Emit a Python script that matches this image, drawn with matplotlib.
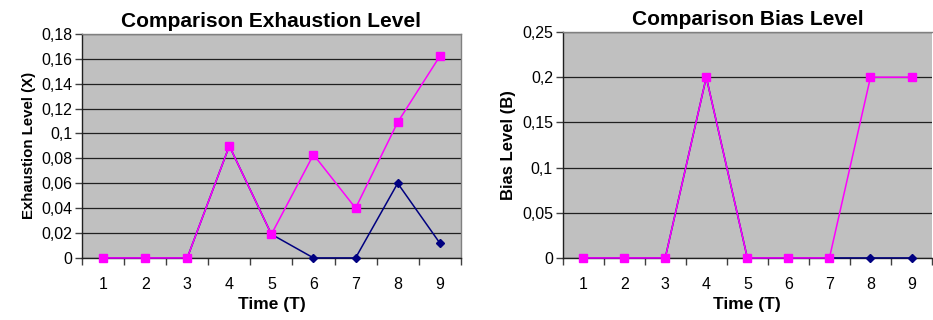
import matplotlib
matplotlib.use("Agg")
import matplotlib.pyplot as plt
from matplotlib.ticker import FuncFormatter, FixedLocator

plt.rcParams['font.family'] = ['Liberation Sans', 'DejaVu Sans']

time = [1, 2, 3, 4, 5, 6, 7, 8, 9]
exh_blue = [0, 0, 0, 0.09, 0.019, 0, 0, 0.06, 0.012]
exh_pink = [0, 0, 0, 0.09, 0.019, 0.083, 0.04, 0.109, 0.162]
bias_blue = [0, 0, 0, 0.2, 0, 0, 0, 0, 0]
bias_pink = [0, 0, 0, 0.2, 0, 0, 0, 0.2, 0.2]

exh_ticks = [0, 0.02, 0.04, 0.06, 0.08, 0.1, 0.12, 0.14, 0.16, 0.18]
bias_ticks = [0, 0.05, 0.1, 0.15, 0.2, 0.25]

fig = plt.figure(figsize=(9.33, 3.2), dpi=100)
ax1 = fig.add_axes([0.0879, 0.194, 0.406, 0.700])
ax2 = fig.add_axes([0.603, 0.194, 0.396, 0.706])

def comma(v, pos):
    s = ('%g' % v)
    return s.replace('.', ',')

def style(ax, ticks, title, ylabel, ylsize):
    ax.set_facecolor('#C0C0C0')
    ax.set_xlim(0.5, 9.5)
    ax.set_ylim(ticks[0], ticks[-1])
    ax.set_yticks(ticks)
    ax.yaxis.set_major_formatter(FuncFormatter(comma))
    ax.set_xticks(time)
    ax.set_xticklabels([str(t) for t in time])
    ax.xaxis.set_minor_locator(FixedLocator([t + 0.5 for t in range(0, 10)]))
    ax.tick_params(axis='x', which='major', length=0, labelsize=11.5, pad=14)
    ax.tick_params(axis='x', which='minor', length=5, width=1, color='#404040')
    ax.tick_params(axis='y', length=5, width=1, labelsize=11.5, pad=2, color='#404040')
    ax.grid(axis='y', color='#202020', linewidth=0.9)
    ax.set_axisbelow(True)
    for s in ['top', 'right']:
        ax.spines[s].set_color('#808080')
        ax.spines[s].set_linewidth(1)
    for s in ['left', 'bottom']:
        ax.spines[s].set_color('#202020')
        ax.spines[s].set_linewidth(1)
    ax.set_title(title, fontsize=15, fontweight='bold', pad=5)
    ax.set_xlabel('Time (T)', fontsize=12.5, fontweight='bold', labelpad=3)
    ax.set_ylabel(ylabel, fontsize=ylsize, fontweight='bold', labelpad=4)

ax1.plot(time, exh_blue, color='#000080', marker='D', markersize=4.5, linewidth=1.1, clip_on=False, zorder=3)
ax1.plot(time, exh_pink, color='#FF00FF', marker='s', markersize=6, linewidth=1.1, clip_on=False, zorder=4)
style(ax1, exh_ticks, 'Comparison Exhaustion Level', 'Exhaustion Level (X)', 10.8)

ax2.plot(time, bias_blue, color='#000080', marker='D', markersize=4.5, linewidth=1.1, clip_on=False, zorder=3)
ax2.plot(time, bias_pink, color='#FF00FF', marker='s', markersize=6, linewidth=1.1, clip_on=False, zorder=4)
style(ax2, bias_ticks, 'Comparison Bias Level', 'Bias Level (B)', 12)
ax2.spines['right'].set_visible(False)

fig.savefig('out.png', dpi=100, facecolor='white')
